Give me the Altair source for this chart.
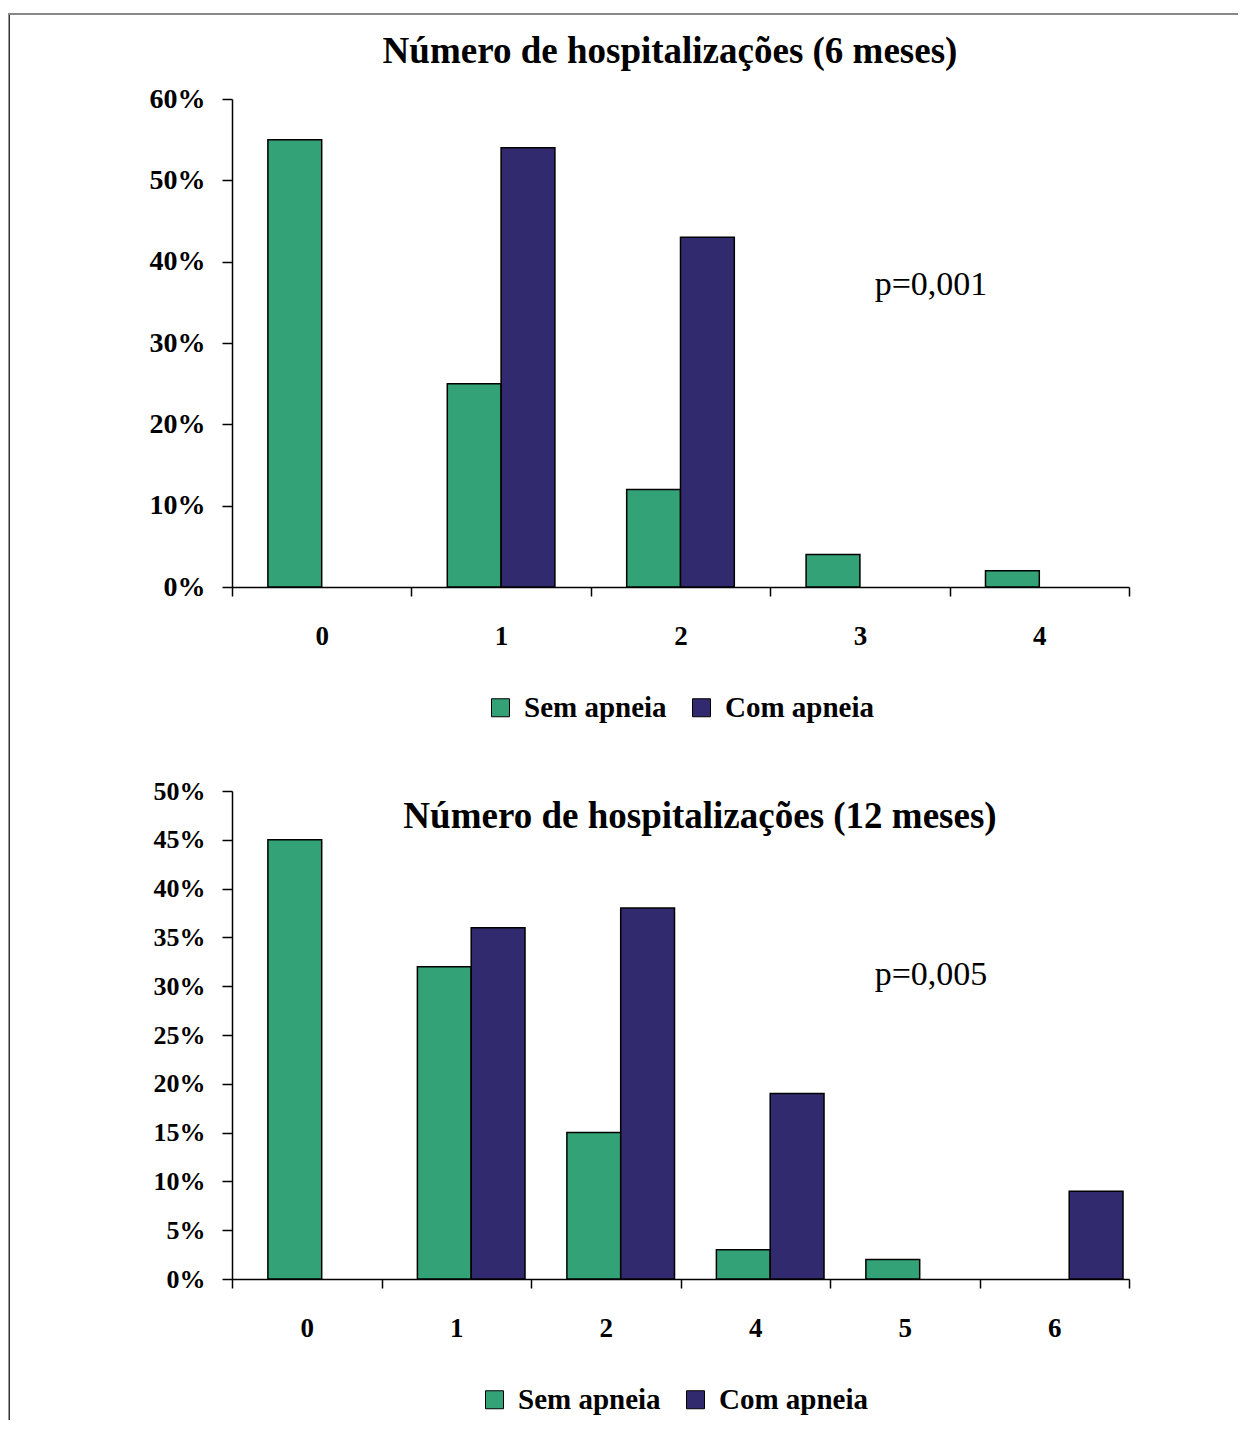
import altair as alt
import pandas as pd

GREEN = "#33A377"
NAVY = "#322A6E"
SERIES = ["Sem apneia", "Com apneia"]
FONT = "Liberation Serif"

# --- data (percent) ---
cats6 = ["0", "1", "2", "3", "4"]
sem6 = [55, 25, 12, 4, 2]
com6 = [0, 54, 43, 0, 0]
yticks6 = [0, 10, 20, 30, 40, 50, 60]

cats12 = ["0", "1", "2", "4", "5", "6"]
sem12 = [45, 32, 15, 3, 2, 0]
com12 = [0, 36, 38, 19, 0, 9]
yticks12 = [0, 5, 10, 15, 20, 25, 30, 35, 40, 45, 50]

title6 = "Número de hospitalizações (6 meses)"
title12 = "Número de hospitalizações (12 meses)"
p6 = "p=0,001"
p12 = "p=0,005"

W, H = 897, 488


def make_df(cats, sem, com):
    rows = []
    for c, s, k in zip(cats, sem, com):
        rows.append({"cat": c, "serie": SERIES[0], "val": s})
        rows.append({"cat": c, "serie": SERIES[1], "val": k})
    return pd.DataFrame(rows)


def one(t):
    return alt.Chart(pd.DataFrame({"t": [t]}))


def panel(cats, sem, com, ymax, yticks, ylabsize, title, txy, ptext, pxy, lxy,
          top_frame, fy, fy2):
    df = make_df(cats, sem, com)
    bars = alt.Chart(df).transform_filter("datum.val > 0").mark_bar(
        stroke="black", strokeWidth=1.5
    ).encode(
        x=alt.X("cat:N", sort=cats,
                scale=alt.Scale(domain=cats, paddingInner=0, paddingOuter=0),
                axis=alt.Axis(title=None, labelAngle=0, tickBand="extent",
                              domainColor="black", domainWidth=1.5,
                              tickColor="black", tickWidth=1.5, tickSize=9,
                              labelFont=FONT, labelFontSize=27,
                              labelFontWeight="bold", labelColor="black",
                              labelPadding=27)),
        xOffset=alt.XOffset("serie:N",
                            scale=alt.Scale(domain=SERIES, paddingInner=0,
                                            paddingOuter=0.667)),
        y=alt.Y("val:Q", scale=alt.Scale(domain=[0, ymax], nice=False),
                axis=alt.Axis(title=None, values=yticks, grid=False,
                              labelExpr="datum.value + '%'",
                              domainColor="black", domainWidth=1.5,
                              tickColor="black", tickWidth=1.5, tickSize=10,
                              labelFont=FONT, labelFontSize=ylabsize,
                              labelFontWeight="bold", labelColor="black",
                              labelPadding=17)),
        color=alt.Color("serie:N",
                        scale=alt.Scale(domain=SERIES, range=[GREEN, NAVY]),
                        legend=alt.Legend(title=None, orient="none",
                                          legendX=lxy[0], legendY=lxy[1],
                                          direction="horizontal",
                                          symbolType="square", symbolSize=324,
                                          symbolStrokeColor="black",
                                          symbolStrokeWidth=1,
                                          labelFont=FONT, labelFontSize=29,
                                          labelFontWeight="bold",
                                          labelColor="black",
                                          columnPadding=20, labelOffset=9)),
    )
    ttl = one(title).mark_text(font=FONT, fontSize=37, fontWeight="bold",
                               align="center", baseline="middle",
                               color="black").encode(
        text="t:N", x=alt.value(txy[0]), y=alt.value(txy[1]))
    ptx = one(ptext).mark_text(font=FONT, fontSize=34, align="center",
                               baseline="middle", color="black").encode(
        text="t:N", x=alt.value(pxy[0]), y=alt.value(pxy[1]))
    left = one("f").mark_rect(color="#333333").encode(
        x=alt.value(-223.5), x2=alt.value(-222), y=alt.value(fy), y2=alt.value(fy2))
    layers = [bars, ttl, ptx, left]
    if top_frame:
        topl = one("f").mark_rect(color="#888888").encode(
            x=alt.value(-223.5), x2=alt.value(1006), y=alt.value(fy),
            y2=alt.value(fy + 2))
        layers.append(topl)
    return alt.layer(*layers).properties(width=W, height=H)


top = panel(cats6, sem6, com6, 60, yticks6, 28, title6, (438, -47), p6,
            (699, 186), (254, 594), True, -86, 648)
bottom = panel(cats12, sem12, com12, 50, yticks12, 26, title12, (468, 26), p12,
               (699, 184), (248, 594), False, -44, 629)

chart = alt.vconcat(top, bottom, spacing=0).resolve_scale(
    color="independent", x="independent", y="independent"
).resolve_legend(color="independent").properties(
    padding={"top": 5, "left": 0, "right": 0, "bottom": 0}
).configure_view(stroke=None)

chart.save("out.html", embed_options={"renderer": "svg", "actions": False})
